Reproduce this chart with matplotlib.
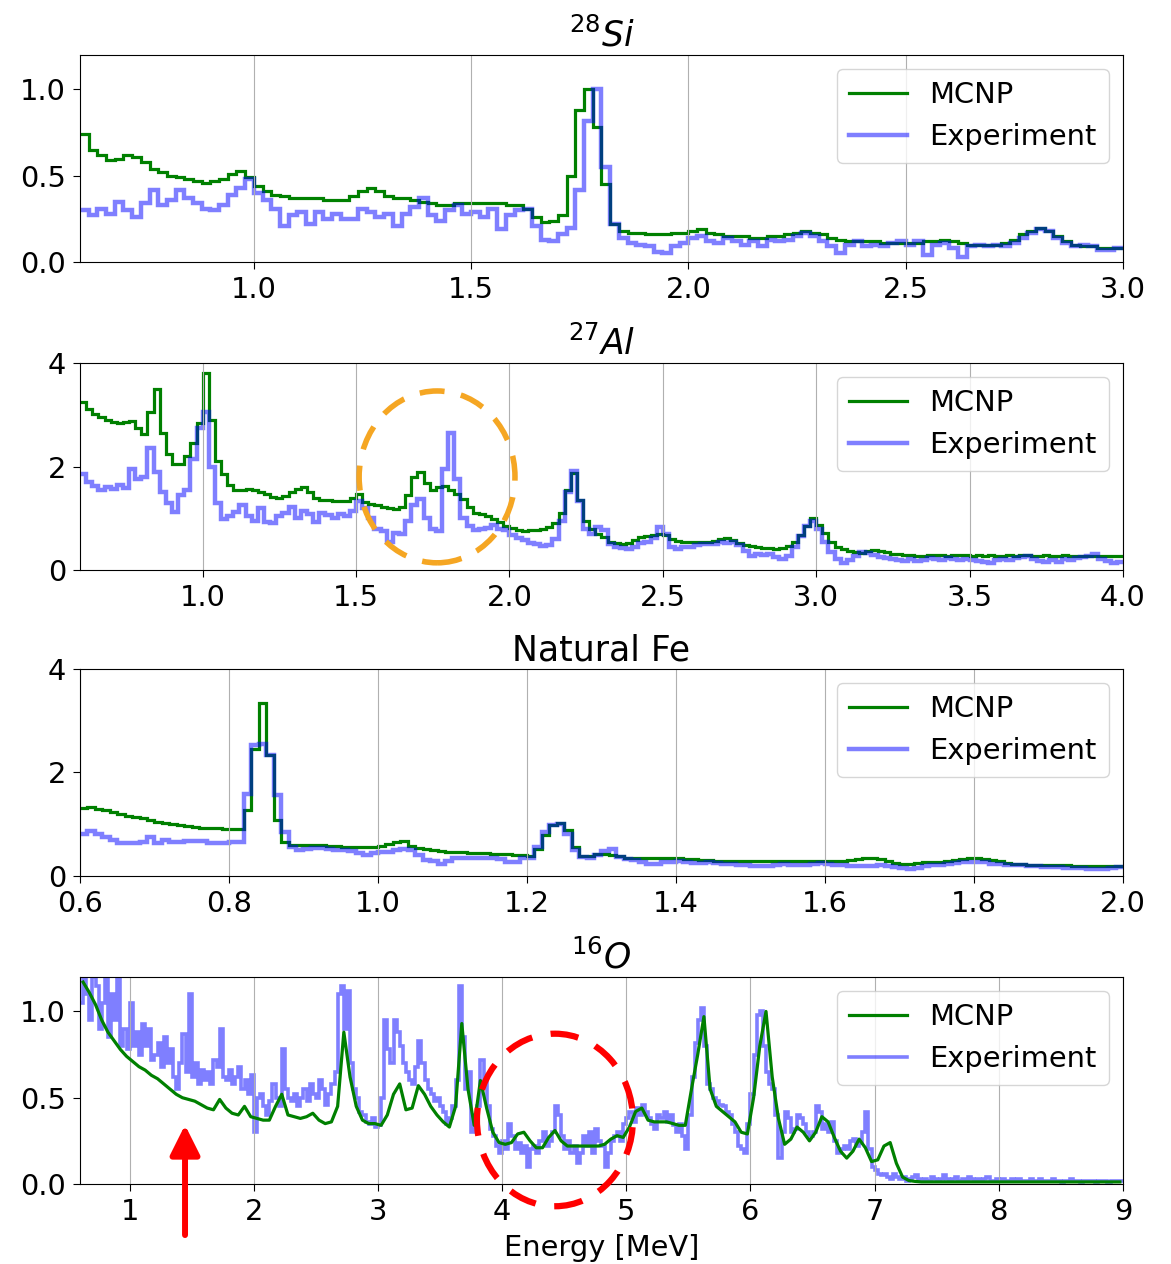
import numpy as np
import matplotlib.pyplot as plt
from matplotlib.patches import Ellipse

plt.rcParams["font.size"] = 20.8
plt.rcParams["xtick.major.size"] = 5
plt.rcParams["ytick.major.size"] = 5
plt.rcParams["xtick.major.pad"] = 5
plt.rcParams["ytick.major.pad"] = 5


# ----------------------------
# Spectra (normalised counts per energy bin)
# ----------------------------

# 28Si, 0.6-3.0 MeV, 0.02 MeV bins
si_mcnp = [
    0.74, 0.65, 0.62, 0.59, 0.60, 0.62, 0.61, 0.58, 0.54, 0.52,
    0.50, 0.49, 0.48, 0.47, 0.46, 0.47, 0.48, 0.51, 0.53, 0.49,
    0.44, 0.41, 0.39, 0.38, 0.37, 0.37, 0.37, 0.37, 0.36, 0.36,
    0.36, 0.38, 0.41, 0.43, 0.41, 0.38, 0.37, 0.37, 0.36, 0.35,
    0.34, 0.33, 0.33, 0.34, 0.34, 0.34, 0.34, 0.34, 0.34, 0.33,
    0.33, 0.31, 0.26, 0.23, 0.24, 0.27, 0.50, 0.88, 1.00, 0.78,
    0.45, 0.22, 0.18, 0.17, 0.17, 0.16, 0.16, 0.16, 0.17, 0.17,
    0.18, 0.19, 0.17, 0.16, 0.15, 0.15, 0.15, 0.14, 0.14, 0.15,
    0.15, 0.16, 0.17, 0.18, 0.17, 0.16, 0.14, 0.13, 0.12, 0.12,
    0.12, 0.12, 0.11, 0.11, 0.11, 0.11, 0.11, 0.12, 0.12, 0.13,
    0.12, 0.11, 0.10, 0.10, 0.10, 0.10, 0.11, 0.13, 0.16, 0.18,
    0.20, 0.18, 0.15, 0.12, 0.10, 0.09, 0.09, 0.08, 0.08, 0.08,
]
si_expt = [
    0.30, 0.27, 0.31, 0.28, 0.35, 0.30, 0.26, 0.34, 0.42, 0.33,
    0.36, 0.42, 0.37, 0.34, 0.31, 0.30, 0.33, 0.39, 0.43, 0.48,
    0.40, 0.36, 0.31, 0.21, 0.27, 0.29, 0.22, 0.29, 0.25, 0.28,
    0.25, 0.25, 0.31, 0.29, 0.26, 0.28, 0.21, 0.28, 0.32, 0.37,
    0.27, 0.24, 0.30, 0.33, 0.28, 0.29, 0.26, 0.31, 0.19, 0.27,
    0.30, 0.31, 0.21, 0.13, 0.12, 0.16, 0.20, 0.42, 0.82, 1.00,
    0.55, 0.22, 0.14, 0.11, 0.10, 0.09, 0.06, 0.05, 0.09, 0.11,
    0.14, 0.15, 0.12, 0.11, 0.14, 0.12, 0.10, 0.12, 0.09, 0.13,
    0.12, 0.13, 0.15, 0.17, 0.15, 0.12, 0.09, 0.05, 0.10, 0.12,
    0.09, 0.10, 0.09, 0.11, 0.12, 0.10, 0.12, 0.04, 0.10, 0.11,
    0.08, 0.03, 0.09, 0.10, 0.09, 0.10, 0.09, 0.11, 0.14, 0.17,
    0.19, 0.18, 0.14, 0.11, 0.09, 0.10, 0.09, 0.07, 0.07, 0.08,
]

# 27Al, 0.6-4.0 MeV, 0.02 MeV bins
al_mcnp = [
    3.25, 3.12, 3.02, 2.95, 2.90, 2.86, 2.84, 2.86, 2.88, 2.75,
    2.62, 3.05, 3.50, 2.65, 2.25, 2.05, 2.05, 2.20, 2.45, 2.85,
    3.80, 2.90, 2.10, 1.85, 1.65, 1.55, 1.54, 1.56, 1.55, 1.50,
    1.46, 1.42, 1.40, 1.44, 1.50, 1.56, 1.60, 1.50, 1.40, 1.35,
    1.36, 1.33, 1.34, 1.34, 1.40, 1.46, 1.32, 1.28, 1.25, 1.22,
    1.20, 1.18, 1.22, 1.45, 1.80, 1.90, 1.68, 1.55, 1.60, 1.62,
    1.55, 1.46, 1.38, 1.22, 1.10, 1.08, 1.05, 0.98, 0.92, 0.86,
    0.82, 0.78, 0.76, 0.77, 0.78, 0.80, 0.84, 0.90, 1.10, 1.55,
    1.88, 1.35, 0.95, 0.80, 0.70, 0.64, 0.55, 0.52, 0.51, 0.52,
    0.58, 0.63, 0.66, 0.68, 0.70, 0.68, 0.60, 0.56, 0.55, 0.54,
    0.54, 0.54, 0.55, 0.57, 0.60, 0.61, 0.58, 0.52, 0.48, 0.46,
    0.44, 0.43, 0.42, 0.41, 0.42, 0.47, 0.55, 0.68, 0.85, 1.00,
    0.88, 0.72, 0.55, 0.45, 0.40, 0.36, 0.34, 0.33, 0.36, 0.38,
    0.37, 0.34, 0.32, 0.31, 0.30, 0.29, 0.28, 0.28, 0.29, 0.29,
    0.29, 0.28, 0.29, 0.29, 0.29, 0.28, 0.29, 0.28, 0.29, 0.28,
    0.28, 0.29, 0.28, 0.29, 0.29, 0.28, 0.28, 0.29, 0.28, 0.28,
    0.29, 0.28, 0.28, 0.28, 0.28, 0.27, 0.28, 0.27, 0.28, 0.28,
]
al_expt = [
    1.85, 1.70, 1.62, 1.55, 1.60, 1.56, 1.65, 1.58, 1.95, 1.75,
    1.80, 2.35, 1.90, 1.50, 1.30, 1.13, 1.45, 1.55, 2.15, 2.75,
    3.05, 2.00, 1.30, 0.98, 1.05, 1.12, 1.25, 1.05, 0.95, 1.20,
    0.92, 0.90, 1.05, 1.10, 1.22, 1.00, 1.15, 1.08, 0.93, 1.10,
    1.06, 1.00, 1.08, 1.05, 1.15, 1.33, 1.20, 1.00, 0.80, 0.75,
    0.55, 0.72, 0.70, 0.95, 1.25, 1.38, 1.00, 0.80, 0.75, 1.95,
    2.65, 1.75, 1.00, 0.85, 0.78, 0.80, 0.82, 0.87, 0.80, 0.78,
    0.68, 0.62, 0.58, 0.52, 0.50, 0.46, 0.48, 0.60, 0.95, 1.50,
    1.92, 1.33, 0.80, 0.70, 0.84, 0.78, 0.50, 0.45, 0.42, 0.41,
    0.45, 0.52, 0.55, 0.62, 0.84, 0.70, 0.44, 0.41, 0.45, 0.44,
    0.48, 0.50, 0.51, 0.50, 0.54, 0.52, 0.55, 0.48, 0.36, 0.28,
    0.32, 0.30, 0.31, 0.25, 0.21, 0.28, 0.45, 0.65, 0.85, 0.95,
    0.80, 0.55, 0.34, 0.22, 0.14, 0.20, 0.28, 0.34, 0.33, 0.30,
    0.26, 0.24, 0.22, 0.20, 0.18, 0.21, 0.18, 0.20, 0.24, 0.22,
    0.20, 0.24, 0.22, 0.19, 0.22, 0.20, 0.18, 0.16, 0.14, 0.20,
    0.22, 0.20, 0.24, 0.26, 0.28, 0.22, 0.18, 0.16, 0.20, 0.16,
    0.22, 0.20, 0.24, 0.26, 0.28, 0.31, 0.22, 0.18, 0.14, 0.16,
]

# Natural Fe, 0.6-2.0 MeV, 0.01 MeV bins
fe_mcnp = [
    1.32, 1.34, 1.30, 1.27, 1.23, 1.19, 1.16, 1.13, 1.11, 1.08,
    1.05, 1.02, 1.00, 0.98, 0.96, 0.95, 0.93, 0.92, 0.92, 0.91,
    0.90, 0.90, 1.27, 2.46, 3.34, 2.34, 1.08, 0.66, 0.60, 0.59,
    0.60, 0.59, 0.59, 0.58, 0.57, 0.56, 0.56, 0.56, 0.56, 0.56,
    0.58, 0.62, 0.66, 0.67, 0.58, 0.54, 0.52, 0.50, 0.48, 0.47,
    0.46, 0.46, 0.45, 0.44, 0.44, 0.43, 0.43, 0.42, 0.41, 0.40,
    0.39, 0.52, 0.80, 0.98, 1.02, 0.88, 0.56, 0.38, 0.39, 0.42,
    0.43, 0.41, 0.38, 0.35, 0.35, 0.34, 0.34, 0.34, 0.35, 0.35,
    0.34, 0.33, 0.32, 0.30, 0.30, 0.29, 0.29, 0.29, 0.28, 0.28,
    0.28, 0.28, 0.28, 0.28, 0.28, 0.28, 0.28, 0.28, 0.28, 0.28,
    0.28, 0.28, 0.29, 0.30, 0.32, 0.34, 0.34, 0.32, 0.28, 0.25,
    0.24, 0.24, 0.25, 0.26, 0.27, 0.27, 0.28, 0.30, 0.32, 0.34,
    0.34, 0.33, 0.31, 0.28, 0.25, 0.24, 0.23, 0.22, 0.22, 0.21,
    0.21, 0.21, 0.21, 0.20, 0.20, 0.20, 0.19, 0.19, 0.19, 0.19,
]
fe_expt = [
    0.82, 0.86, 0.82, 0.75, 0.70, 0.63, 0.63, 0.64, 0.66, 0.75,
    0.63, 0.69, 0.66, 0.66, 0.67, 0.68, 0.67, 0.63, 0.63, 0.64,
    0.66, 0.66, 1.59, 2.53, 2.54, 2.34, 1.56, 0.85, 0.56, 0.50,
    0.52, 0.54, 0.54, 0.52, 0.50, 0.50, 0.48, 0.44, 0.40, 0.44,
    0.46, 0.46, 0.50, 0.52, 0.50, 0.40, 0.30, 0.28, 0.24, 0.28,
    0.35, 0.35, 0.34, 0.34, 0.35, 0.34, 0.32, 0.27, 0.27, 0.34,
    0.34, 0.56, 0.85, 0.98, 1.01, 0.82, 0.50, 0.36, 0.35, 0.40,
    0.48, 0.53, 0.37, 0.32, 0.30, 0.27, 0.24, 0.24, 0.26, 0.27,
    0.28, 0.26, 0.25, 0.25, 0.26, 0.25, 0.23, 0.24, 0.22, 0.21,
    0.20, 0.19, 0.20, 0.21, 0.23, 0.22, 0.21, 0.22, 0.24, 0.25,
    0.24, 0.22, 0.21, 0.20, 0.19, 0.19, 0.20, 0.22, 0.20, 0.17,
    0.15, 0.14, 0.16, 0.19, 0.22, 0.22, 0.23, 0.25, 0.26, 0.27,
    0.27, 0.26, 0.24, 0.23, 0.22, 0.21, 0.21, 0.20, 0.19, 0.18,
    0.17, 0.17, 0.16, 0.16, 0.15, 0.14, 0.14, 0.13, 0.15, 0.17,
]

# 16O, 0.6-9.0 MeV: MCNP in 0.05 MeV bins
o_mcnp = [
    1.17, 1.11, 1.04, 0.95, 0.88, 0.83, 0.78, 0.74, 0.71, 0.68,
    0.66, 0.63, 0.61, 0.58, 0.55, 0.52, 0.50, 0.49, 0.48, 0.46,
    0.44, 0.43, 0.49, 0.44, 0.41, 0.40, 0.45, 0.39, 0.38, 0.37,
    0.37, 0.45, 0.52, 0.40, 0.39, 0.38, 0.39, 0.41, 0.37, 0.35,
    0.36, 0.45, 0.88, 0.62, 0.45, 0.37, 0.35, 0.35, 0.34, 0.40,
    0.52, 0.58, 0.43, 0.44, 0.57, 0.52, 0.45, 0.40, 0.36, 0.33,
    0.45, 0.93, 0.55, 0.34, 0.60, 0.44, 0.30, 0.24, 0.23, 0.24,
    0.29, 0.30, 0.25, 0.21, 0.21, 0.27, 0.31, 0.25, 0.22, 0.22,
    0.22, 0.22, 0.22, 0.22, 0.23, 0.26, 0.28, 0.27, 0.33, 0.42,
    0.44, 0.37, 0.36, 0.36, 0.36, 0.35, 0.34, 0.34, 0.55, 0.75,
    0.97, 0.55, 0.45, 0.42, 0.39, 0.36, 0.30, 0.29, 0.50, 0.80,
    1.00, 0.62, 0.38, 0.23, 0.26, 0.33, 0.30, 0.25, 0.30, 0.39,
    0.36, 0.27, 0.19, 0.15, 0.19, 0.26, 0.21, 0.13, 0.14, 0.22,
    0.24, 0.12, 0.04, 0.02, 0.015, 0.012, 0.012, 0.012, 0.012, 0.012,
    0.012, 0.012, 0.012, 0.012, 0.012, 0.012, 0.012, 0.012, 0.012, 0.012,
    0.012, 0.012, 0.012, 0.012, 0.012, 0.012, 0.012, 0.012, 0.012, 0.012,
    0.012, 0.012, 0.012, 0.012, 0.012, 0.012, 0.012, 0.012,
]
# 16O experiment in 0.025 MeV bins, one row per 0.2 MeV
o_expt = [
    1.05, 1.20, 1.10, 0.95, 1.20, 1.15, 0.90, 1.05,
    1.20, 0.85, 1.10, 0.95, 1.20, 0.80, 0.90, 0.78,
    1.05, 0.80, 0.88, 0.75, 0.93, 0.80, 0.90, 0.72,
    0.75, 0.82, 0.68, 0.85, 0.70, 0.78, 0.62, 0.55,
    0.70, 0.87, 0.65, 1.10, 0.62, 0.70, 0.58, 0.66,
    0.60, 0.65, 0.58, 0.72, 0.68, 0.90, 0.62, 0.60,
    0.66, 0.58, 0.62, 0.68, 0.55, 0.60, 0.52, 0.63,
    0.30, 0.50, 0.52, 0.45, 0.40, 0.48, 0.58, 0.50,
    0.45, 0.78, 0.55, 0.50, 0.48, 0.52, 0.45, 0.50,
    0.55, 0.48, 0.58, 0.52, 0.50, 0.60, 0.55, 0.46,
    0.52, 0.58, 0.65, 1.10, 1.15, 0.90, 1.12, 0.70,
    0.55, 0.50, 0.42, 0.40, 0.36, 0.35, 0.38, 0.33,
    0.34, 0.50, 0.95, 0.78, 0.70, 0.95, 0.88, 0.80,
    0.70, 0.65, 0.60, 0.58, 0.68, 0.83, 0.70, 0.60,
    0.55, 0.52, 0.48, 0.50, 0.45, 0.42, 0.35, 0.38,
    0.45, 0.60, 1.15, 0.85, 0.55, 0.65, 0.30, 0.40,
    0.45, 0.72, 0.60, 0.45, 0.32, 0.28, 0.22, 0.18,
    0.25, 0.20, 0.35, 0.28, 0.20, 0.24, 0.18, 0.22,
    0.10, 0.20, 0.22, 0.18, 0.25, 0.30, 0.22, 0.25,
    0.30, 0.45, 0.40, 0.28, 0.20, 0.25, 0.18, 0.22,
    0.12, 0.18, 0.28, 0.22, 0.30, 0.18, 0.32, 0.25,
    0.22, 0.10, 0.18, 0.25, 0.28, 0.30, 0.25, 0.35,
    0.38, 0.42, 0.36, 0.44, 0.40, 0.46, 0.42, 0.38,
    0.35, 0.32, 0.40, 0.38, 0.42, 0.36, 0.40, 0.34,
    0.30, 0.35, 0.28, 0.20, 0.40, 0.62, 0.82, 0.95,
    1.02, 0.80, 0.58, 0.55, 0.50, 0.48, 0.46, 0.45,
    0.42, 0.40, 0.35, 0.30, 0.22, 0.20, 0.18, 0.35,
    0.52, 0.75, 0.98, 1.00, 0.80, 0.65, 0.58, 0.55,
    0.40, 0.15, 0.30, 0.42, 0.38, 0.30, 0.32, 0.40,
    0.38, 0.35, 0.30, 0.28, 0.30, 0.45, 0.42, 0.32,
    0.35, 0.30, 0.36, 0.25, 0.18, 0.20, 0.22, 0.20,
    0.25, 0.26, 0.22, 0.24, 0.30, 0.42, 0.20, 0.10,
    0.08, 0.06, 0.05, 0.06, 0.04, 0.03, 0.06, 0.04,
    0.03, 0.04, 0.02, 0.03, 0.04, 0.05, 0.03, 0.02,
    0.03, 0.02, 0.04, 0.03, 0.02, 0.03, 0.05, 0.03,
    0.02, 0.03, 0.04, 0.02, 0.03, 0.02, 0.04, 0.03,
    0.02, 0.03, 0.02, 0.03, 0.04, 0.02, 0.02, 0.03,
    0.02, 0.03, 0.02, 0.02, 0.03, 0.02, 0.03, 0.02,
    0.02, 0.02, 0.03, 0.02, 0.02, 0.03, 0.02, 0.02,
    0.02, 0.03, 0.02, 0.02, 0.01, 0.02, 0.02, 0.03,
    0.02, 0.02, 0.01, 0.02, 0.02, 0.02, 0.02, 0.01,
    0.02, 0.02, 0.02, 0.01, 0.02, 0.02, 0.02, 0.02,
]

si_xticks = [1.0, 1.5, 2.0, 2.5, 3.0]
al_xticks = [1.0, 1.5, 2.0, 2.5, 3.0, 3.5, 4.0]
fe_xticks = [0.6, 0.8, 1.0, 1.2, 1.4, 1.6, 1.8, 2.0]
o_xticks = [1, 2, 3, 4, 5, 6, 7, 8, 9]


# ----------------------------
# Panel helper
# ----------------------------

def draw_panel(ax, lo, hi, mcnp, expt, title, ytop, yticks, xticks,
               smooth_mcnp=False, expt_lw=3.2):
    if smooth_mcnp:
        w = (hi - lo) / len(mcnp)
        ax.plot(lo + w * (np.arange(len(mcnp)) + 0.5), mcnp,
                color="green", lw=2.3, label="MCNP")
    else:
        ax.stairs(mcnp, np.linspace(lo, hi, len(mcnp) + 1), baseline=None,
                  color="green", lw=2.3, label="MCNP")
    ax.stairs(expt, np.linspace(lo, hi, len(expt) + 1), baseline=None,
              color="blue", alpha=0.5, lw=expt_lw, label="Experiment")
    ax.set_xlim(lo, hi)
    ax.set_ylim(0, ytop)
    ax.set_xticks(xticks)
    ax.set_yticks(yticks)
    ax.grid(axis="x")
    ax.set_title(title)
    ax.legend(loc="upper right", labelspacing=0.5)


fig = plt.figure(figsize=(11.71, 12.64), dpi=100)
left, width, height = 0.0683, 0.8907, 0.1638
ax1 = fig.add_axes([left, 0.7927, width, height])
ax2 = fig.add_axes([left, 0.5490, width, height])
ax3 = fig.add_axes([left, 0.3070, width, height])
ax4 = fig.add_axes([left, 0.0633, width, height])

draw_panel(ax1, 0.6, 3.0, si_mcnp, si_expt, r"$^{28}Si$", 1.2, [0.0, 0.5, 1.0], si_xticks)
draw_panel(ax2, 0.6, 4.0, al_mcnp, al_expt, r"$^{27}Al$", 4, [0, 2, 4], al_xticks)
draw_panel(ax3, 0.6, 2.0, fe_mcnp, fe_expt, "Natural Fe", 4, [0, 2, 4], fe_xticks)
draw_panel(ax4, 0.6, 9.0, o_mcnp, o_expt, r"$^{16}O$", 1.2, [0.0, 0.5, 1.0], o_xticks,
           smooth_mcnp=True, expt_lw=2.6)
ax4.set_xlabel("Energy [MeV]", labelpad=6)


# ----------------------------
# Highlight marks
# ----------------------------

ax2.add_patch(Ellipse((1.764, 1.80), 0.508, 3.32, fill=False, ec="#f5a623",
                      lw=4, ls=(0, (4.5, 3)), zorder=5))
ax4.add_patch(Ellipse((4.425, 0.371), 1.256, 1.0, fill=False, ec="red",
                      lw=4.5, ls=(0, (4.5, 3)), clip_on=False, zorder=5))
ax4.annotate("", xy=(1.446, 0.342), xytext=(1.446, -0.296),
             arrowprops=dict(arrowstyle="-|>", color="red", lw=4.3,
                             mutation_scale=45, shrinkA=0, shrinkB=0),
             annotation_clip=False)

fig.savefig("out.png", dpi=100)
